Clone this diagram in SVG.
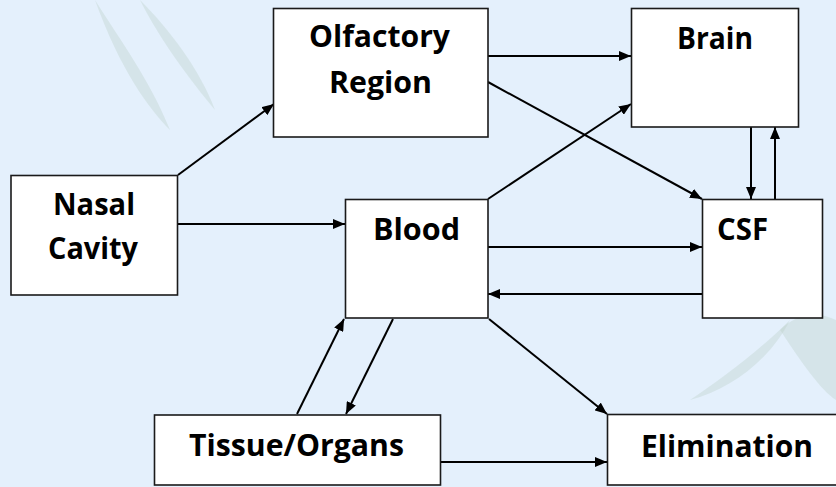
<svg xmlns="http://www.w3.org/2000/svg" width="836" height="487" viewBox="0 0 836 487">
<style>
.box{fill:#ffffff;stroke:#1a1a1a;stroke-width:1.6}
.lbl{font-family:"Open Sans","Liberation Sans",sans-serif;font-weight:bold;font-size:30px;fill:#000}
.con{stroke:#000;stroke-width:2;fill:none;marker-end:url(#ah)}
.wm{fill:#b9cfc6;opacity:0.35}
</style>
<defs>
<marker id="ah" viewBox="0 0 12 10" refX="12" refY="5" markerWidth="12" markerHeight="10" markerUnits="userSpaceOnUse" orient="auto">
<path d="M0,0 L12,5 L0,10 Z" fill="#000"/>
</marker>
</defs>
<rect width="836" height="487" fill="#e4f0fc"/>
<g id="watermark">
<path class="wm" d="M95,0 C120,40 150,80 170,130 C150,110 120,70 95,0 Z"/>
<path class="wm" d="M140,0 C170,30 200,70 215,110 C190,80 160,40 140,0 Z" opacity="0.25"/>
<path class="wm" d="M780,330 C800,360 820,390 836,400 L836,320 C815,310 795,315 780,330 Z" opacity="0.3"/>
<path class="wm" d="M690,400 C720,380 760,350 790,320 C770,360 730,390 690,400 Z" opacity="0.2"/>
</g>
<g id="connectors">
<line class="con" x1="178" y1="175" x2="274" y2="104"/>
<line class="con" x1="178" y1="224" x2="345" y2="224"/>
<line class="con" x1="488" y1="56" x2="631" y2="56"/>
<line class="con" x1="488" y1="82" x2="702" y2="199"/>
<line class="con" x1="488" y1="199" x2="631" y2="104"/>
<line class="con" x1="751" y1="127" x2="751" y2="199"/>
<line class="con" x1="775" y1="199" x2="775" y2="127"/>
<line class="con" x1="488" y1="247" x2="702" y2="247"/>
<line class="con" x1="702" y1="294" x2="488" y2="294"/>
<line class="con" x1="297" y1="414" x2="344" y2="319"/>
<line class="con" x1="393" y1="319" x2="346" y2="414"/>
<line class="con" x1="489" y1="319" x2="607" y2="414"/>
<line class="con" x1="440" y1="462" x2="607" y2="462"/>
</g>
<g id="olfactory">
<rect class="box" x="273.5" y="8.5" width="214.5" height="128.5"/>
<text class="lbl" x="309" y="47" textLength="141" lengthAdjust="spacingAndGlyphs">Olfactory</text>
<text class="lbl" x="329" y="93" textLength="103" lengthAdjust="spacingAndGlyphs">Region</text>
</g>
<g id="brain">
<rect class="box" x="631.5" y="8.5" width="167" height="118.5"/>
<text class="lbl" x="677" y="49" textLength="76" lengthAdjust="spacingAndGlyphs">Brain</text>
</g>
<g id="nasal">
<rect class="box" x="11" y="175.5" width="166.5" height="119.5"/>
<text class="lbl" x="53" y="215" textLength="82" lengthAdjust="spacingAndGlyphs">Nasal</text>
<text class="lbl" x="48" y="259" textLength="90" lengthAdjust="spacingAndGlyphs">Cavity</text>
</g>
<g id="blood">
<rect class="box" x="345.5" y="199.5" width="142.5" height="118.5"/>
<text class="lbl" x="373" y="240" textLength="87" lengthAdjust="spacingAndGlyphs">Blood</text>
</g>
<g id="csf">
<rect class="box" x="702.5" y="199.5" width="120" height="118.5"/>
<text class="lbl" x="717" y="240" textLength="51" lengthAdjust="spacingAndGlyphs">CSF</text>
</g>
<g id="tissue">
<rect class="box" x="154.5" y="415" width="286" height="70"/>
<text class="lbl" x="189" y="456" textLength="215" lengthAdjust="spacingAndGlyphs">Tissue/Organs</text>
</g>
<g id="elimination">
<rect class="box" x="607.5" y="414.5" width="232" height="70.5"/>
<text class="lbl" x="641" y="456.5" textLength="172" lengthAdjust="spacingAndGlyphs">Elimination</text>
</g>
</svg>
